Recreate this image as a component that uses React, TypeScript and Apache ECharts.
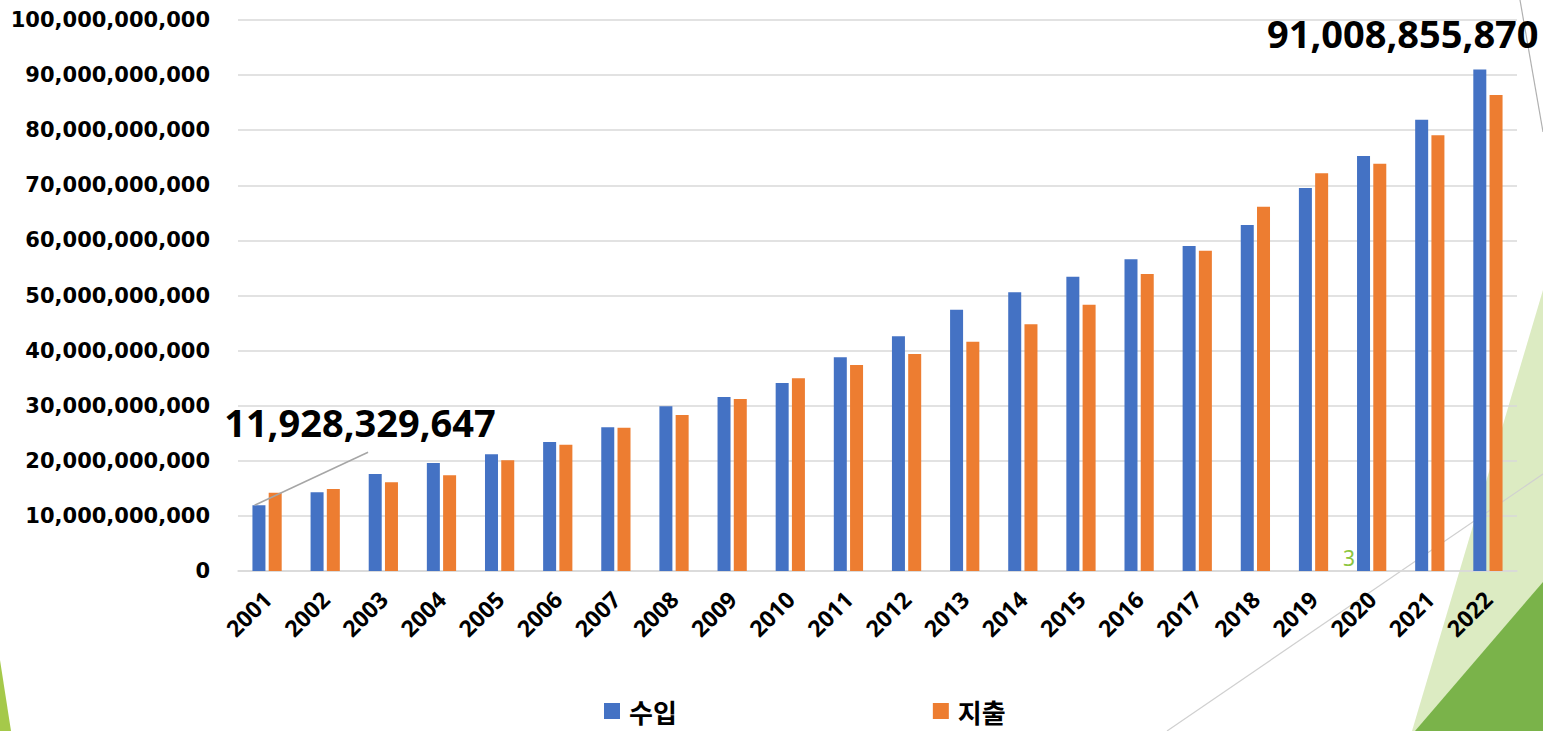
import React, { useEffect, useRef } from "react";
import * as echarts from "echarts";

const years = ["2001","2002","2003","2004","2005","2006","2007","2008","2009","2010","2011","2012","2013","2014","2015","2016","2017","2018","2019","2020","2021","2022"];
const income = [11928329647, 14300000000, 17600000000, 19600000000, 21200000000, 23400000000, 26100000000, 29900000000, 31600000000, 34100000000, 38800000000, 42600000000, 47400000000, 50600000000, 53400000000, 56600000000, 59000000000, 62800000000, 69500000000, 75300000000, 81900000000, 91008855870];
const expense = [14200000000, 14900000000, 16100000000, 17400000000, 20100000000, 22900000000, 26000000000, 28300000000, 31200000000, 35000000000, 37400000000, 39400000000, 41600000000, 44800000000, 48300000000, 53900000000, 58100000000, 66100000000, 72200000000, 73900000000, 79100000000, 86400000000];
const seriesNames = ["수입", "지출"];
const yTicks = { min: 0, max: 100000000000, interval: 10000000000 };
const slideNumber = "3";

const fmt = (v: number) => Math.round(v).toLocaleString("en-US");

export default function App() {
  const ref = useRef<HTMLDivElement>(null);
  useEffect(() => {
    const chart = echarts.init(ref.current!, undefined, { renderer: "svg" });
    const bigLabel = {
      show: true,
      position: "top",
      formatter: (p: any) => fmt(p.value),
      fontFamily: "Noto Sans",
      fontWeight: "bold",
      fontSize: 38,
      color: "#000",
    };
    const incomeData = income.map((v, i) => {
      if (i === 0 || i === income.length - 1) return { value: v, label: bigLabel };
      return v;
    });
    const decorations: any[] = [
      { type: "polygon", z: -10, silent: true, shape: { points: [[1412, 731], [1543, 290], [1543, 731]] }, style: { fill: "#dcebc2" } },
      { type: "polygon", z: -9, silent: true, shape: { points: [[1415, 731], [1543, 582], [1543, 731]] }, style: { fill: "#7ab34a" } },
      { type: "polygon", z: -9, silent: true, shape: { points: [[0, 660], [11, 731], [0, 731]] }, style: { fill: "#a5c94a" } },
      { type: "line", z: -8, silent: true, shape: { x1: 1167, y1: 731, x2: 1543, y2: 474 }, style: { stroke: "#d0d0d0", lineWidth: 1.2 } },
      { type: "line", z: -8, silent: true, shape: { x1: 1520, y1: 0, x2: 1543, y2: 132 }, style: { stroke: "#b0b0b0", lineWidth: 1.2 } },
      { type: "text", z: 5, silent: true, x: 1343, y: 547, style: { text: slideNumber, fill: "#8cc63f", fontSize: 21, fontFamily: "Noto Sans" } },
    ];
    chart.setOption({
      animation: false,
      backgroundColor: "#fff",
      grid: { left: 238, right: 26, top: 20, bottom: 160, containLabel: false },
      legend: {
        left: 604,
        top: 697,
        padding: 0,
        icon: "rect",
        itemWidth: 16,
        itemHeight: 16,
        itemGap: 256,
        textStyle: { fontFamily: "Noto Sans CJK KR", fontWeight: "bold", fontSize: 26, color: "#000", lineHeight: 28, padding: [0, 0, 0, 4] },
        data: seriesNames,
      },
      xAxis: {
        type: "category",
        data: years,
        axisLine: { show: true, lineStyle: { color: "#d9d9d9", width: 1.5 } },
        axisTick: { show: false },
        axisLabel: {
          rotate: 45,
          margin: 24,
          fontFamily: "Noto Sans",
          fontWeight: "bold",
          fontSize: 23,
          color: "#000",
          interval: 0,
        },
      },
      yAxis: {
        type: "value",
        min: yTicks.min,
        max: yTicks.max,
        interval: yTicks.interval,
        axisLine: { show: false },
        axisTick: { show: false },
        splitLine: { lineStyle: { color: "#d9d9d9", width: 1.5 } },
        axisLabel: {
          margin: 28,
          formatter: (v: number) => fmt(v),
          fontFamily: "DejaVu Sans",
          fontWeight: "bold",
          fontSize: 21,
          color: "#000",
        },
      },
      graphic: decorations,
      series: [
        {
          name: seriesNames[0],
          type: "bar",
          barWidth: 13,
          barGap: "25%",
          itemStyle: { color: "#4472c4" },
          data: incomeData,
          labelLayout: (p: any) => {
            if (p.dataIndex === 0) return { dx: 101, dy: -59 };
            if (p.dataIndex === income.length - 1) return { dx: -77, dy: -13 };
            return {};
          },
          z: 3,
        },
        {
          name: seriesNames[1],
          type: "bar",
          barWidth: 13,
          itemStyle: { color: "#ed7d31" },
          data: expense,
          z: 3,
        },
      ],
    });
    // leader line from first income bar's top-left corner to its moved label
    const top = chart.convertToPixel({ xAxisIndex: 0, yAxisIndex: 0 }, [0, income[0]]) as number[];
    const barLeft = top[0] - 8 - 6.5;
    chart.setOption({
      graphic: [
        ...decorations,
        { type: "line", z: 4, silent: true, shape: { x1: barLeft + 2, y1: top[1], x2: top[0] + 101, y2: top[1] - 53 }, style: { stroke: "#a6a6a6", lineWidth: 1.5 } },
      ],
    });
    return () => chart.dispose();
  }, []);
  return <div ref={ref} style={{ position: "fixed", left: 0, top: 0, width: 1543, height: 731 }} />;
}
